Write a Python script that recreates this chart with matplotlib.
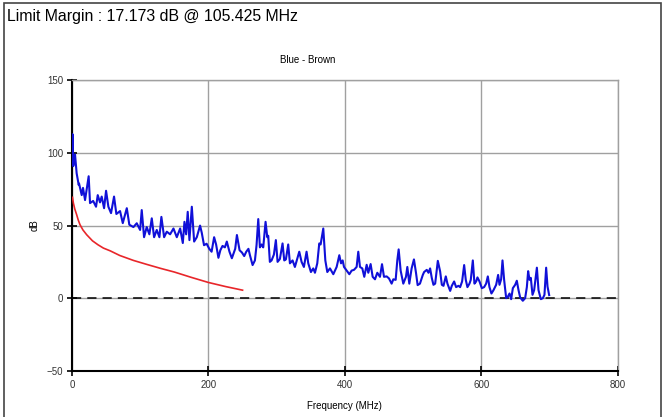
import matplotlib.pyplot as plt
from matplotlib.patches import Rectangle

plt.rcParams['font.family'] = ['Liberation Sans', 'DejaVu Sans']

# measured trace (Blue - Brown), MHz / dB
freq = [0, 0.7, 1.8, 4.4, 6.8, 9.8, 10.3, 14.2, 16.1, 19.1, 20.5, 24.4, 26.4, 31, 35.2,
        37.7, 41, 43.5, 47, 49.9, 53.3, 57.2, 61.6, 65, 70.4, 74.4, 80.3, 84, 90, 94.9,
        99.8, 102.2, 105.6, 109.5, 113.4, 116.9, 120.3, 124.2, 128.1, 131, 135, 138.9,
        143.8, 148.7, 153.6, 158.5, 162.4, 164.8, 167.3, 169.6, 172.1, 175.6, 179, 182.9,
        187.7, 190.2, 193.5, 197.3, 201.2, 204.6, 208.3, 211.2, 214.6, 217.4, 220.6,
        224.1, 226.9, 230.8, 234.3, 239.2, 241.7, 245.6, 249, 252.4, 255.4, 258.6, 260.9,
        264.7, 268.1, 270.5, 273, 275.4, 277.9, 280.3, 283.7, 286.2, 287.6, 290, 292.5,
        295.9, 298.8, 301.3, 304.7, 308.6, 311.1, 313.5, 316.9, 319.4, 323.3, 326.7,
        330.1, 333.1, 336.5, 339.9, 343.8, 346.3, 350.2, 353.6, 356.1, 359.5, 362.4,
        364.4, 368.3, 371.3, 374.2, 378.1, 383, 387.9, 391.8, 394.3, 396.7, 398.7, 402.6,
        406.5, 409.9, 413.3, 417.2, 419.6, 422.1, 425.5, 428.4, 431.9, 434.3, 437.7,
        440.7, 444.1, 447.5, 451.4, 454.4, 457.3, 461.2, 464.6, 468.5, 471, 474.4, 476.8,
        478.8, 481.7, 485.6, 489.5, 491.5, 494.4, 497.8, 501.2, 504.2, 506.6, 510,
        514.2, 516.1, 520, 522.5, 524.9, 527.4, 529.8, 532.3, 536.2, 539.6, 542.1, 544.5,
        547.9, 550.3, 554.3, 556.7, 560.1, 563, 566.4, 568.9, 571.8, 574.8, 577.2, 579.6,
        582.6, 584.5, 587.5, 589.9, 592.4, 594.3, 597.3, 600.7, 604.1, 607, 609.5, 611.9,
        614.8, 617.8, 621.7, 624.6, 626.6, 629, 631, 633.4, 636.4, 638.8, 641.3, 643.7,
        646.2, 649.6, 652, 654.5, 656.9, 660.8, 664.2, 666.7, 668.6, 670.6, 672.5, 675,
        677.4, 681.4, 683.8, 687.2, 690.2, 692.5, 695, 697, 699.4]
level = [96, 113, 91, 99, 86, 78, 79, 71, 76, 67.6, 72, 84, 65.5, 67, 63,
         71, 66, 70, 62, 74, 63, 58.6, 70, 58, 60, 51.7, 62, 50.6, 49, 51.6,
         47, 60.7, 42, 49, 44, 55, 42, 47, 42, 56, 42, 45.8,
         44, 48, 42, 48, 38, 52.6, 44, 59.5, 40, 63, 39, 42,
         50, 45, 36.5, 37.5, 34, 32, 42, 37, 27.8, 33, 36,
         35, 39, 32, 27.5, 34, 43.5, 33, 31.5, 29, 32, 34, 29.4,
         22.8, 26, 36.6, 54.5, 35, 37, 35, 52.6, 42, 43, 25, 26,
         30, 40, 25, 27, 37.7, 26, 26.7, 37, 24, 26, 21.5,
         27, 32, 25, 21.5, 32, 24, 18, 20.5, 17.5, 24, 37.7,
         37, 48, 26, 18, 20.5, 16.5, 21.5, 29.6, 24, 26, 21.5, 19,
         16.5, 19, 19.5, 21.5, 32, 21.5, 20.5, 14.7, 23, 17.5, 23.5,
         14.7, 13, 17.5, 14.7, 23.4, 14.7, 15, 13.6, 10, 13, 12.6, 26,
         33.6, 19, 10, 14.7, 21.5, 10, 20.5, 26.7, 17.5, 9, 10,
         16, 18, 19.5, 17.5, 20.5, 13.8, 9.2, 10, 25.7, 18.4, 9.2, 8.5,
         15, 10, 5, 8.5, 11.5, 7.6, 8.5, 7.6, 11.5, 22.8, 12.6, 7.6,
         10, 12.6, 26, 10, 11.5, 14.3, 11.5, 6.9, 7.6, 10, 15, 7.6,
         3.2, 5.5, 9.2, 16, 9.2, 13, 26, 12.6, 0, 1, 3.2, -0.7,
         6.9, 9.2, 12, 5.5, 0.5, -1.8, 0, 7.6, 18.6, 12.6, 14, 2.3,
         5.5, 21, 5.5, -0.7, 0, 2.3, 21, 8, 2.1]

# limit line
limit_freq = [0.7, 2, 4, 6.8, 9, 11.7, 16, 21.5, 30, 38, 46, 56, 70, 90, 110, 130,
              150, 175, 200, 225, 250]
limit_level = [69.5, 65.5, 61.5, 57.5, 54, 50.6, 47, 43.7, 39.5, 36.8, 34.5, 32.6,
               29.4, 26, 23.2, 20.5, 18, 14.3, 10.8, 8, 5.5]

fig = plt.figure(figsize=(6.65, 4.17), dpi=100)
ax = fig.add_axes([0.1083, 0.111, 0.8207, 0.696])

ax.plot(freq, level, color="#1010d8", lw=1.5, zorder=4)
ax.plot(limit_freq, limit_level, color="#e8262a", lw=1.2, zorder=3)
ax.axhline(0, color="black", lw=1.1, ls=(0, (6, 4)), zorder=2)

ax.set_xlim(0, 800)
ax.set_ylim(-50, 150)
ax.set_xticks([0, 200, 400, 600, 800])
ax.set_yticks([-50, 0, 50, 100, 150])
ax.grid(True, color="#a0a0a0", lw=1)
ax.set_axisbelow(True)
for s in ["top", "right"]:
    ax.spines[s].set_color("#a0a0a0")
    ax.spines[s].set_linewidth(1)
for s in ["left", "bottom"]:
    ax.spines[s].set_linewidth(1.5)
ax.tick_params(direction="inout", length=7, width=1.2, labelsize=7,
               labelcolor="#333333", pad=3)
ax.set_xlabel("Frequency (MHz)", fontsize=7, labelpad=8)
ax.set_ylabel("dB", fontsize=7, labelpad=5)

fig.text(308 / 665, 1 - 60 / 417, "Blue - Brown", fontsize=7, ha="center", va="center")
fig.text(7 / 665, 1 - 17 / 417, "Limit Margin : 17.173 dB @ 105.425 MHz",
         fontsize=11.4, va="center", ha="left")
fig.patches.append(Rectangle((3.5 / 665, -0.01), 657.5 / 665, 1 - 2.5 / 417 + 0.01,
                             transform=fig.transFigure, fill=False,
                             edgecolor="#444444", lw=1.2))

fig.savefig("out.png", dpi=100)
